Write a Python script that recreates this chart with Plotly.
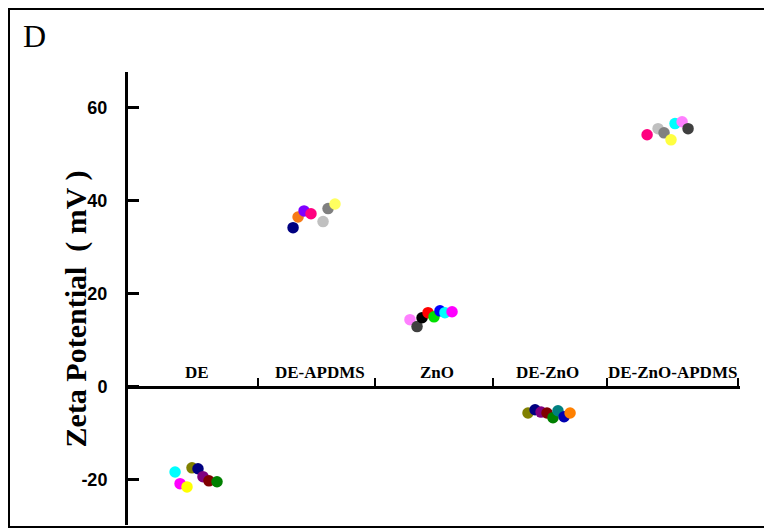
import plotly.graph_objects as go

categories = ["DE", "DE-APDMS", "ZnO", "DE-ZnO", "DE-ZnO-APDMS"]

# measured points per sample group: x position along axis, zeta potential (mV), colour
de_x = [0.386, 0.427, 0.484, 0.525, 0.574, 0.615, 0.664, 0.730]
de_y = [-18.4, -20.9, -21.6, -17.5, -17.7, -19.4, -20.3, -20.5]
de_c = ["#00FFFF", "#FF00FF", "#FFFF00", "#808000", "#000080", "#800080", "#800000", "#008000"]

apdms_x = [1.354, 1.395, 1.444, 1.501, 1.600, 1.641, 1.698]
apdms_y = [34.2, 36.5, 37.8, 37.2, 35.5, 38.3, 39.3]
apdms_c = ["#000080", "#F77B16", "#7F00FF", "#FF0080", "#C0C0C0", "#808080", "#FFFF60"]

zno_x = [2.313, 2.371, 2.412, 2.461, 2.510, 2.559, 2.600, 2.658]
zno_y = [14.4, 12.9, 14.8, 15.9, 15.0, 16.3, 15.9, 16.1]
zno_c = ["#FF80FF", "#404040", "#000000", "#FF0000", "#00E000", "#0000FF", "#00FFFF", "#FF00FF"]

dezno_x = [3.281, 3.339, 3.388, 3.437, 3.486, 3.527, 3.577, 3.626]
dezno_y = [-5.7, -5.0, -5.5, -5.7, -6.7, -5.2, -6.5, -5.7]
dezno_c = ["#808000", "#000080", "#800080", "#800000", "#008000", "#008080", "#0000B0", "#FF8000"]

deznoapdms_x = [4.258, 4.348, 4.397, 4.454, 4.487, 4.545, 4.594]
deznoapdms_y = [54.2, 55.5, 54.6, 53.1, 56.6, 57.0, 55.5]
deznoapdms_c = ["#FF0080", "#C0C0C0", "#808080", "#FFFF40", "#00FFFF", "#FF80FF", "#404040"]

y_ticks = [-20, 0, 20, 40, 60]
y_tick_text = ["-20", "0", "20", "40", "60"]

groups = [
    (de_x, de_y, de_c),
    (apdms_x, apdms_y, apdms_c),
    (zno_x, zno_y, zno_c),
    (dezno_x, dezno_y, dezno_c),
    (deznoapdms_x, deznoapdms_y, deznoapdms_c),
]

fig = go.Figure()
for name, (gx, gy, gc) in zip(categories, groups):
    fig.add_trace(go.Scatter(
        x=gx, y=gy, mode="markers", name=name,
        marker=dict(size=11.5, color=gc, line=dict(width=0)),
        showlegend=False, hoverinfo="x+y",
    ))

y_min, y_max = -29.8, 67.7
zero_pos = (0 - y_min) / (y_max - y_min)

# page body has an 8px margin, so the figure is sized to fit inside the window
fig.update_layout(
    width=764, height=521,
    margin=dict(l=120, r=32, t=64, b=4),
    paper_bgcolor="white", plot_bgcolor="white",
    xaxis=dict(
        range=[0, 5.02], showgrid=False, zeroline=False,
        anchor="free", position=zero_pos,
        showline=True, linecolor="black", linewidth=3,
        ticks="inside", ticklen=8, tickwidth=2, tickcolor="black",
        tickvals=[1.07, 2.03, 2.99, 3.93, 5.0], showticklabels=False,
    ),
    yaxis=dict(
        range=[y_min, y_max], showgrid=False, zeroline=False,
        showline=True, linecolor="black", linewidth=3,
        ticks="inside", ticklen=11, tickwidth=3, tickcolor="black",
        tickvals=y_ticks, ticktext=y_tick_text, ticklabelstandoff=14,
        tickfont=dict(family="Liberation Sans", size=18, color="black", weight="bold"),
    ),
    font=dict(family="Liberation Serif", color="black"),
)

label_x = [0.566, 1.575, 2.535, 3.445, 4.463]
for lx, txt in zip(label_x, categories):
    fig.add_annotation(
        x=lx, y=3.0, xref="x", yref="y", text=f"<b>{txt}</b>", showarrow=False,
        font=dict(family="Liberation Serif", size=17, color="black"),
        xanchor="center", yanchor="middle",
    )

fig.add_annotation(
    x=-0.085, y=0.478, xref="paper", yref="paper",
    text="<b>Zeta Potential \u00a0( mV )</b>",
    textangle=-90, showarrow=False,
    font=dict(family="Liberation Serif", size=30, color="black"),
    xanchor="center", yanchor="middle",
)

fig.add_annotation(
    x=-0.175, y=1.079, xref="paper", yref="paper", text="D", showarrow=False,
    font=dict(family="Liberation Serif", size=32, color="black"),
    xanchor="left", yanchor="middle",
)

fig.add_shape(
    type="rect", xref="paper", yref="paper",
    x0=(9 - 128) / 612, x1=(770 - 128) / 612,
    y0=(525 - 527) / 453, y1=(525 - 9) / 453,
    line=dict(color="black", width=2), fillcolor="rgba(0,0,0,0)", layer="above",
)

fig.write_html("out.html")
